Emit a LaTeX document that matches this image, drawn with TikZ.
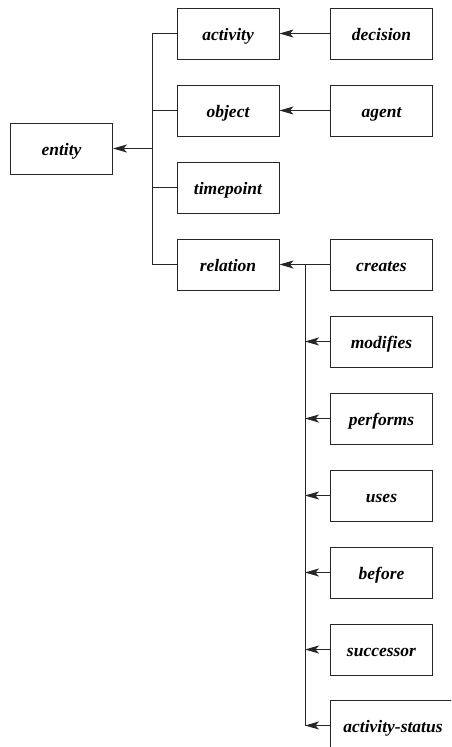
\documentclass[tikz,border=0pt]{standalone}
\usepackage{fontspec}
\setmainfont{Liberation Serif}
\usetikzlibrary{arrows.meta}
\begin{document}
\begin{tikzpicture}[x=1pt,y=-1pt,
  box/.style={draw=black!85,line width=0.9pt,minimum width=102pt,minimum height=51pt,inner sep=0pt,
    text height=13pt,text depth=0pt,
    font=\fontsize{17.5}{20}\selectfont\bfseries\itshape},
  conn/.style={draw=black!85,line width=0.9pt},
  arr/.style={conn,-{Stealth[length=14pt,width=8pt,inset=3.5pt]}}]
\useasboundingbox (0,0) rectangle (451,747);
\clip (0,0) rectangle (451,747);
\node[box] (entity) at (61.5,148.5) {entity};
\node[box] (activity) at (228,33.5) {activity};
\node[box] (object) at (228,110.5) {object};
\node[box] (timepoint) at (228,187.5) {timepoint};
\node[box] (relation) at (228,264.5) {relation};
\node[box] (decision) at (381.5,33.5) {decision};
\node[box] (agent) at (381.5,110.5) {agent};
\node[box] (creates) at (381.5,264.5) {creates};
\node[box] (modifies) at (381.5,341.5) {modifies};
\node[box] (performs) at (381.5,418.5) {performs};
\node[box] (uses) at (381.5,495.5) {uses};
\node[box] (before) at (381.5,572.5) {before};
\node[box] (successor) at (381.5,649.5) {successor};
\node[box,minimum width=126pt] (status) at (393,725.5) {activity-status};
% left bus
\coordinate (lbus) at (152,0);
\draw[conn] (activity.west -| lbus) -- (relation.west -| lbus);
\foreach \n in {activity,object,timepoint,relation}
  \draw[conn] (\n.west) -- (\n.west -| lbus);
\draw[arr] (entity.east -| lbus) -- (entity.east);
% top right arrows
\draw[arr] (decision.west) -- (activity.east);
\draw[arr] (agent.west) -- (object.east);
\draw[arr] (creates.west) -- (relation.east);
% right bus
\coordinate (rbus) at (305,0);
\draw[conn] (creates.west -| rbus) -- (status.west -| rbus);
\foreach \n in {modifies,performs,uses,before,successor,status}
  \draw[arr] (\n.west) -- (\n.west -| rbus);
\end{tikzpicture}
\end{document}
